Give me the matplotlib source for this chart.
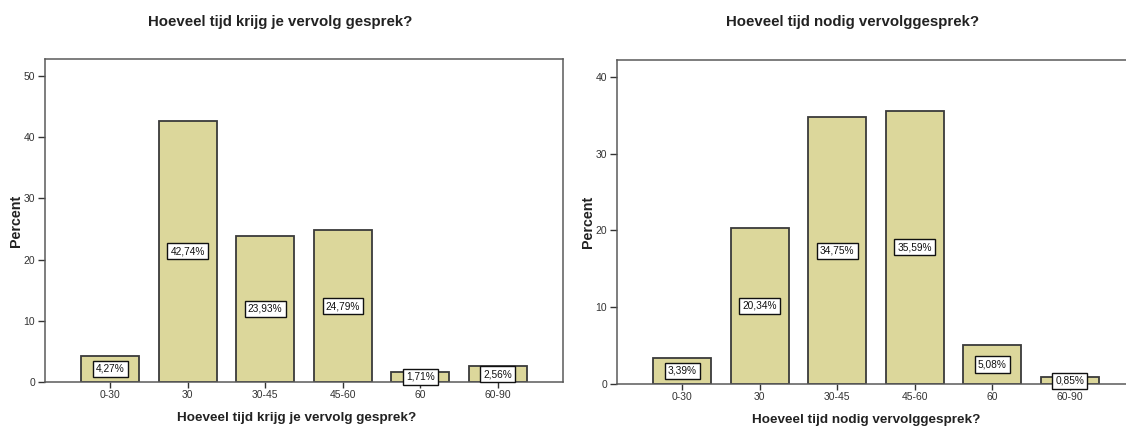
import matplotlib.pyplot as plt

plt.rcParams['font.family'] = ['Liberation Sans', 'DejaVu Sans']

categories = ["0-30", "30", "30-45", "45-60", "60", "60-90"]
krijg_pct = [4.27, 42.74, 23.93, 24.79, 1.71, 2.56]
nodig_pct = [3.39, 20.34, 34.75, 35.59, 5.08, 0.85]

bar_color = "#dcd79b"
edge_color = "#3a3a3a"
spine_color = "#5a5a5a"

W, H = 1126, 426
fig = plt.figure(figsize=(W / 100, H / 100), dpi=100)


def px_axes(x0, y0, x1, y1):
    # pixel box -> figure fraction
    return fig.add_axes([x0 / W, 1 - y1 / H, (x1 - x0) / W, (y1 - y0) / H])


def draw_panel(ax, values, ymax, yticks):
    x = range(len(categories))
    ax.bar(x, values, width=0.75, color=bar_color, edgecolor=edge_color,
           linewidth=1.3, zorder=2)
    for i, v in enumerate(values):
        ax.text(i, v / 2, f"{v:.2f}%".replace(".", ","), ha="center", va="center",
                fontsize=7.3, color="#111111", zorder=3,
                bbox=dict(boxstyle="square,pad=0.3", facecolor="white",
                          edgecolor="#111111", linewidth=1.0))
    ax.set_xlim(-0.84, len(categories) - 0.16)
    ax.set_ylim(0, ymax)
    ax.set_yticks(yticks)
    ax.set_xticks(list(x))
    ax.set_xticklabels(categories)
    ax.tick_params(axis="both", labelsize=7.5, colors="#333333", length=4,
                   width=1, pad=2)
    ax.tick_params(axis="y", length=5)
    for s in ax.spines.values():
        s.set_color(spine_color)
        s.set_linewidth(1.1)


ax1 = px_axes(45, 59, 563, 382)
draw_panel(ax1, krijg_pct, 52.8, [0, 10, 20, 30, 40, 50])

ax2 = px_axes(617, 60, 1135, 384)
draw_panel(ax2, nodig_pct, 42.2, [0, 10, 20, 30, 40])

# y-axis titles
for xp, yp in [(16, 221), (588, 222)]:
    fig.text(xp / W, 1 - yp / H, "Percent", rotation=90, ha="center", va="center",
             fontsize=10.3, fontweight="bold", color="#222222")

fig.text(280 / W, 1 - 22 / H, "Hoeveel tijd krijg je vervolg gesprek?",
         ha="center", va="center", fontsize=10.8, fontweight="bold", color="#222222")
fig.text(853 / W, 1 - 22 / H, "Hoeveel tijd nodig vervolggesprek?",
         ha="center", va="center", fontsize=10.8, fontweight="bold", color="#222222")
fig.text(297 / W, 1 - 418 / H, "Hoeveel tijd krijg je vervolg gesprek?",
         ha="center", va="center", fontsize=9.7, fontweight="bold", color="#222222")
fig.text(866 / W, 1 - 420 / H, "Hoeveel tijd nodig vervolggesprek?",
         ha="center", va="center", fontsize=9.7, fontweight="bold", color="#222222")

fig.savefig("out.png", dpi=100)
